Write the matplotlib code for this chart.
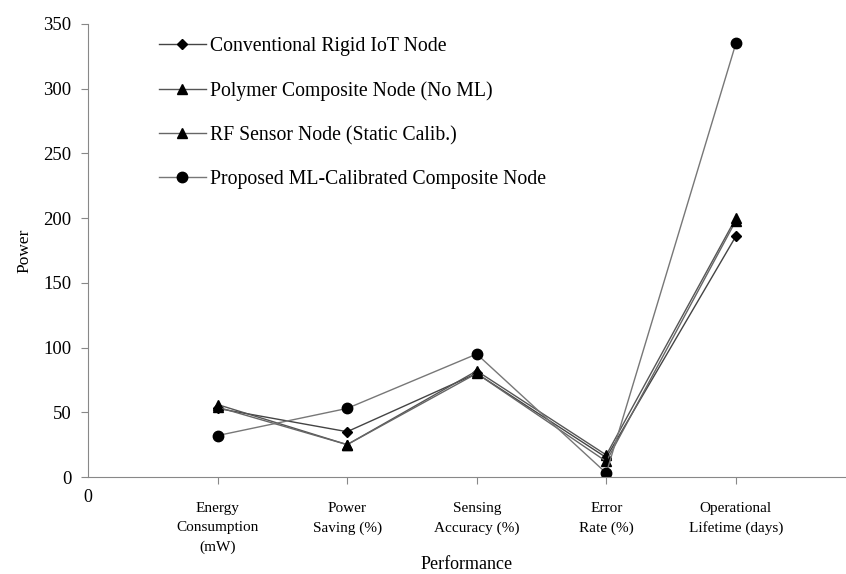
import matplotlib.pyplot as plt
import numpy as np

plt.rcParams['font.family'] = ['Liberation Serif', 'DejaVu Serif']

# Data
categories = ['Energy\nConsumption\n(mW)', 'Power\nSaving (%)', 'Sensing\nAccuracy (%)',
              'Error\nRate (%)', 'Operational\nLifetime (days)']
conventional = [53, 35, 80, 15, 186]
polymer = [56, 25, 82, 17, 200]
rf_static = [54, 25, 80, 12, 198]
proposed = [32, 53, 95, 3, 335]

series = [
    ('Conventional Rigid IoT Node', conventional, 'D', 5.5, '#444444'),
    ('Polymer Composite Node (No ML)', polymer, '^', 7, '#555555'),
    ('RF Sensor Node (Static Calib.)', rf_static, '^', 7, '#666666'),
    ('Proposed ML-Calibrated Composite Node', proposed, 'o', 7.5, '#777777'),
]

x = np.arange(1, len(categories) + 1)

fig = plt.figure(figsize=(8.46, 5.74), dpi=100)
ax = fig.add_axes([88 / 846, 1 - 477 / 574, 1 - 88 / 846, 453 / 574])

for name, vals, mk, ms, col in series:
    ax.plot(x, vals, color=col, linewidth=1.0, marker=mk, markersize=ms,
            markerfacecolor='black', markeredgecolor='black', label=name)

ax.set_xlim(0, 5.85)
ax.set_ylim(0, 350)
ax.set_yticks(np.arange(0, 351, 50))
ax.set_xticks([0] + list(x))
ax.set_xticklabels(['0'] + categories, fontsize=11, linespacing=1.6)
ax.tick_params(axis='y', labelsize=13.5, length=5, color='#888888', direction='out', pad=7)
ax.tick_params(axis='x', length=5, color='#888888', direction='out')
for i, t in enumerate(ax.xaxis.get_major_ticks()):
    if i == 0:
        t.set_pad(4)
        t.tick1line.set_visible(False)
        t.label1.set_fontsize(13)
    else:
        t.set_pad(13)

for s in ['top', 'right']:
    ax.spines[s].set_visible(False)
for s in ['left', 'bottom']:
    ax.spines[s].set_color('#888888')

ax.set_ylabel('Power', fontsize=12.5, labelpad=8)
ax.set_xlabel('Performance', fontsize=13, labelpad=2)

ax.legend(loc='upper left', bbox_to_anchor=(0.07, 1.01), frameon=False,
          fontsize=14.2, labelspacing=1.27, handlelength=2.4, handletextpad=0.2)

fig.savefig('out.png', dpi=100)
